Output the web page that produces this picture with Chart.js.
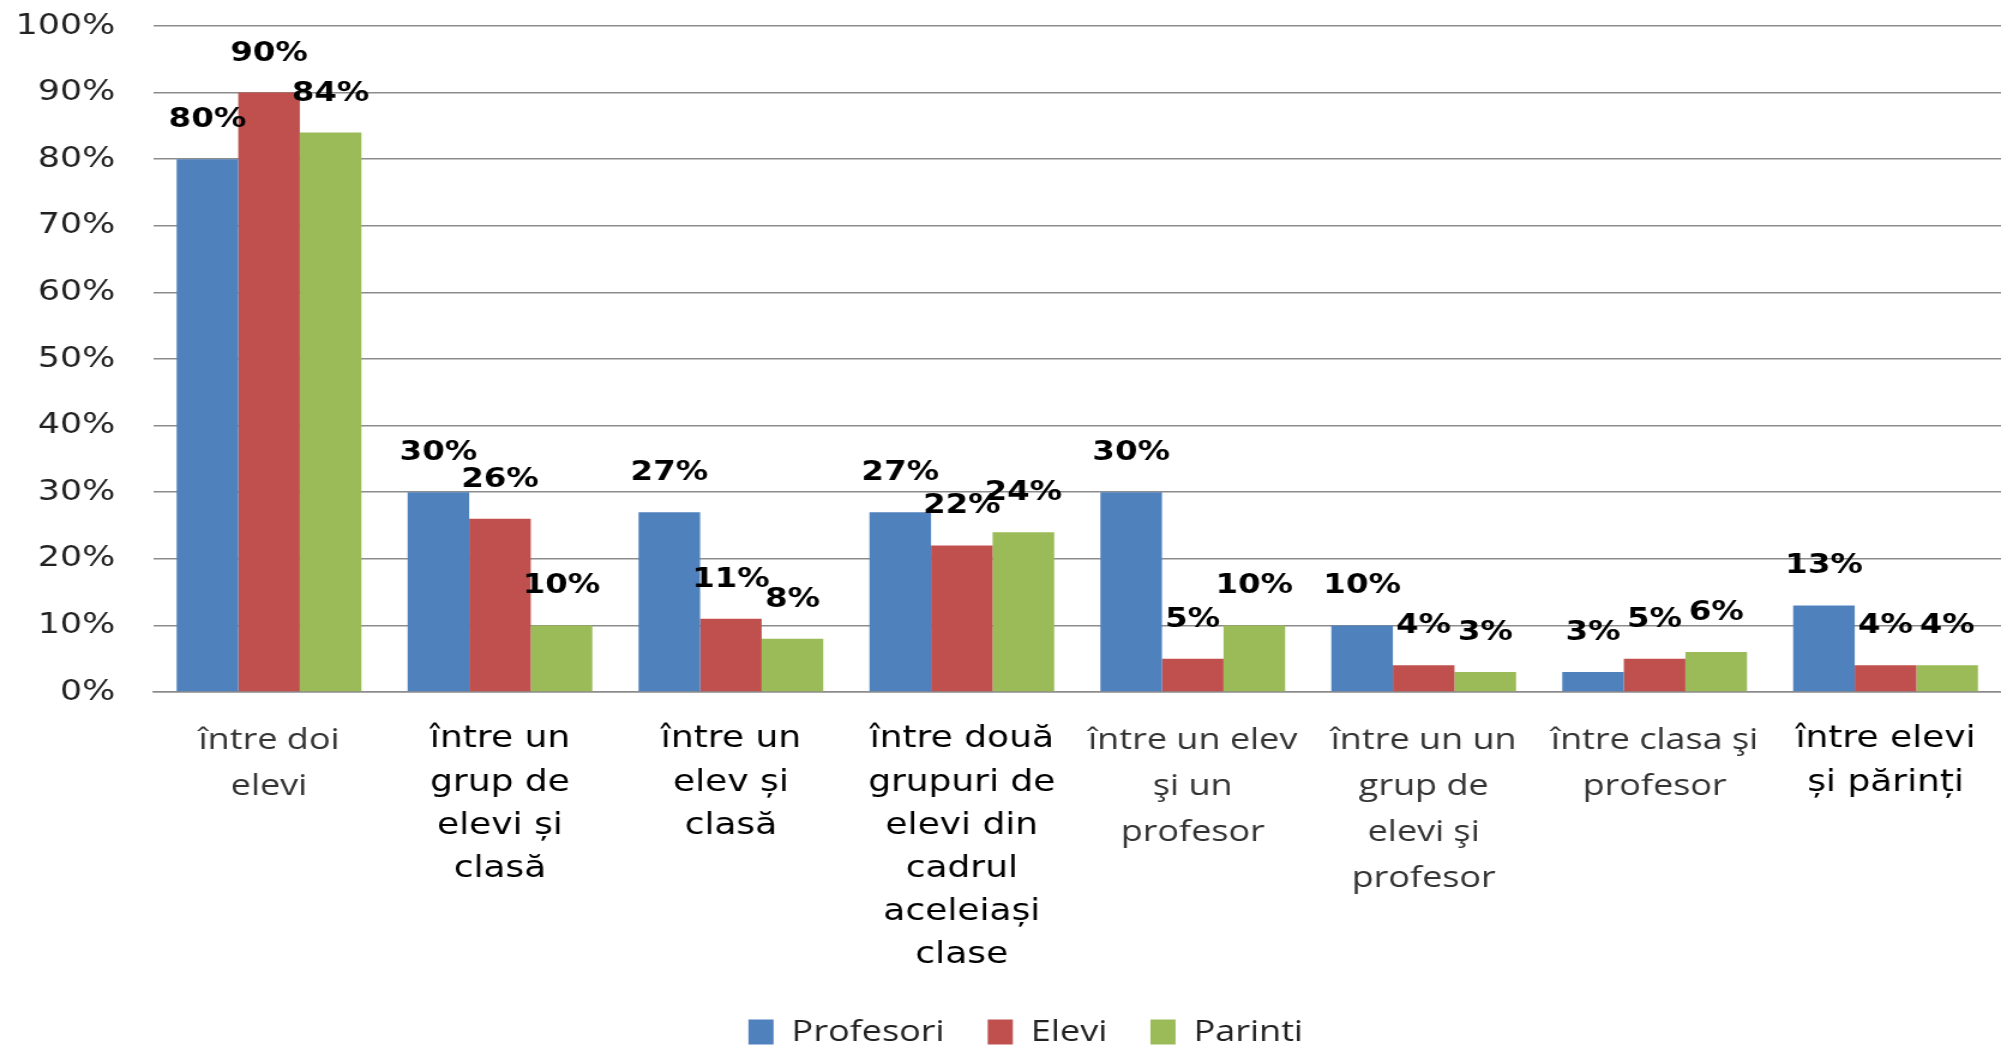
<!DOCTYPE html>
<html>
<head>
<meta charset="utf-8">
<script src="https://cdn.jsdelivr.net/npm/chart.js@4/dist/chart.umd.min.js"></script>
<style>
    html, body { margin: 0; padding: 0; background: #fff; overflow: hidden; height: 1048px; }
    /* the reference is stretched sideways, so draw narrower and scale it out */
    #wrap { width: 1668px; height: 1057px; transform: scaleX(1.19964); transform-origin: 0 0; }
</style>
</head>
<body>
<div id="wrap"><canvas id="grafic"></canvas></div>
<script>
const categorii = [
    ['între doi', 'elevi'],
    ['între un', 'grup de', 'elevi și', 'clasă'],
    ['între un', 'elev și', 'clasă'],
    ['între două', 'grupuri de', 'elevi din', 'cadrul', 'aceleiași', 'clase'],
    ['între un elev', 'şi un', 'profesor'],
    ['între un un', 'grup de', 'elevi şi', 'profesor'],
    ['între clasa şi', 'profesor'],
    ['între elevi', 'și părinți']
];
// which category labels use the heavier font in the original
const etichetaGroasa = [false, true, true, true, false, false, false, true];

const profesori = [80, 30, 27, 27, 30, 10, 3, 13];
const elevi = [90, 26, 11, 22, 5, 4, 5, 4];
const parinti = [84, 10, 8, 24, 10, 3, 6, 4];

const serii = ['Profesori', 'Elevi', 'Parinti'];
const culori = ['#4F81BD', '#C0504D', '#9BBB59'];

const etichetePeBare = {
    id: 'etichetePeBare',
    afterDatasetsDraw(chart) {
        const ctx = chart.ctx;
        ctx.save();
        ctx.font = 'bold 27px "DejaVu Sans"';
        ctx.fillStyle = '#000';
        ctx.textAlign = 'center';
        ctx.textBaseline = 'middle';
        chart.data.datasets.forEach((ds, i) => {
            chart.getDatasetMeta(i).data.forEach((bar, j) => {
                ctx.fillText(ds.data[j] + '%', bar.x, bar.y - 39);
            });
        });
        ctx.restore();
    }
};

// legend sits a bit right of the canvas centre in the original
const mutaLegenda = {
    id: 'mutaLegenda',
    afterLayout(chart) {
        chart.legend.left += 21;
        chart.legend.right += 21;
    }
};

new Chart(document.getElementById('grafic'), {
    type: 'bar',
    data: {
        labels: categorii,
        datasets: [
            { label: serii[0], data: profesori, backgroundColor: culori[0] },
            { label: serii[1], data: elevi, backgroundColor: culori[1] },
            { label: serii[2], data: parinti, backgroundColor: culori[2] }
        ]
    },
    options: {
        responsive: true,
        maintainAspectRatio: false,
        animation: false,
        datasets: { bar: { categoryPercentage: 0.8, barPercentage: 1 } },
        layout: { padding: { top: 26, right: 0, bottom: 0, left: 0 } },
        plugins: {
            tooltip: { enabled: false },
            legend: {
                position: 'bottom',
                labels: {
                    boxWidth: 21,
                    boxHeight: 25,
                    padding: 36,
                    color: '#222',
                    font: { family: '"Open Sans"', size: 30 }
                }
            }
        },
        scales: {
            x: {
                grid: { display: false },
                border: { display: true, color: '#8c8c8c', width: 1.5 },
                ticks: {
                    maxRotation: 0,
                    autoSkip: false,
                    padding: 18,
                    color: (c) => etichetaGroasa[c.index] ? '#000' : '#333',
                    font: (c) => etichetaGroasa[c.index]
                        ? { family: '"DejaVu Sans"', size: 30, lineHeight: 1.44 }
                        : { family: '"Open Sans"', size: 30, lineHeight: 1.53 }
                },
                afterFit(scale) { scale.height = 289; }
            },
            y: {
                min: 0,
                max: 100,
                border: { display: false },
                grid: { color: '#8c8c8c', lineWidth: 1.5, drawTicks: false },
                ticks: {
                    stepSize: 10,
                    padding: 32,
                    color: '#222',
                    font: { family: '"DejaVu Sans"', size: 29 },
                    callback: (v) => v + '%'
                },
                afterFit(scale) {
                    scale.width = 128;
                    scale.paddingTop = 0;
                    scale.paddingBottom = 0;
                }
            }
        }
    },
    plugins: [etichetePeBare, mutaLegenda]
});
</script>
</body>
</html>
